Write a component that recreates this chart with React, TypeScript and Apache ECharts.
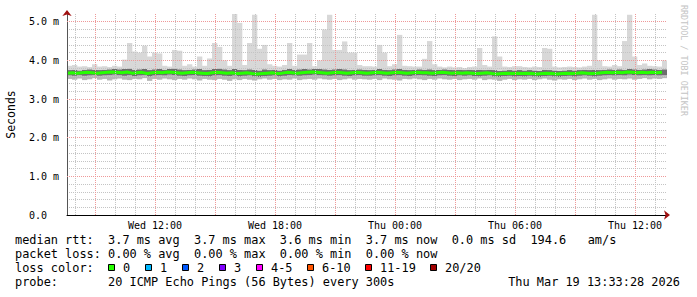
import React, { useEffect, useRef } from "react";
import * as echarts from "echarts";

// ---- time axis (hours since Wed 00:00) ----
const START_HOUR = 7.6; // Wed 07:36
const END_HOUR = 37.6; // Thu 13:36
const STEP_HOURS = 0.25; // one sample per 15 minutes

const minorGridHours = [8, 9, 10, 11, 12, 13, 14, 15, 16, 17, 18, 19, 20, 21, 22, 23, 24, 25, 26, 27, 28, 29, 30, 31, 32, 33, 34, 35, 36, 37];
const majorGridHours = [9, 12, 15, 18, 21, 24, 27, 30, 33, 36];
const labelHours = [12, 18, 24, 30, 36];

const yMinorTicks = [0.2, 0.4, 0.6, 0.8, 1.2, 1.4, 1.6, 1.8, 2.2, 2.4, 2.6, 2.8, 3.2, 3.4, 3.6, 3.8, 4.2, 4.4, 4.6, 4.8, 5.0];
const yMajorTicks = [1, 2, 3, 4, 5];
const yLabelTicks = [0, 1, 2, 3, 4, 5];

// ---- series (milliseconds) ----
const medianMs = [
  3.67, 3.68, 3.67, 3.68, 3.69, 3.68, 3.67, 3.68, 3.69, 3.70,
  3.69, 3.68, 3.70, 3.67, 3.68, 3.69, 3.66, 3.68, 3.69, 3.68,
  3.70, 3.69, 3.68, 3.67, 3.68, 3.69, 3.68, 3.67, 3.66, 3.68,
  3.69, 3.68, 3.67, 3.68, 3.66, 3.67, 3.68, 3.66, 3.65, 3.66,
  3.67, 3.68, 3.66, 3.67, 3.69, 3.68, 3.67, 3.68, 3.69, 3.70,
  3.69, 3.68, 3.67, 3.68, 3.69, 3.68, 3.67, 3.68, 3.69, 3.68,
  3.67, 3.68, 3.69, 3.68, 3.67, 3.68, 3.69, 3.68, 3.67, 3.68,
  3.69, 3.68, 3.68, 3.67, 3.68, 3.69, 3.68, 3.67, 3.68, 3.67,
  3.68, 3.67, 3.66, 3.67, 3.68, 3.66, 3.65, 3.66, 3.67, 3.66,
  3.67, 3.66, 3.67, 3.66, 3.65, 3.66, 3.67, 3.66, 3.65, 3.66,
  3.67, 3.66, 3.67, 3.68, 3.67, 3.66, 3.67, 3.68, 3.69, 3.68,
  3.69, 3.68, 3.70, 3.69, 3.68, 3.69, 3.68, 3.69, 3.68, 3.69,
];

const minMs = [
  3.52, 3.50, 3.53, 3.49, 3.51, 3.54, 3.50, 3.52, 3.48, 3.51,
  3.53, 3.50, 3.49, 3.52, 3.51, 3.54, 3.47, 3.52, 3.50, 3.53,
  3.51, 3.49, 3.52, 3.50, 3.53, 3.51, 3.48, 3.52, 3.50, 3.49,
  3.52, 3.50, 3.47, 3.51, 3.49, 3.52, 3.50, 3.48, 3.51, 3.53,
  3.50, 3.52, 3.49, 3.51, 3.50, 3.53, 3.49, 3.51, 3.52, 3.50,
  3.53, 3.51, 3.50, 3.52, 3.49, 3.51, 3.53, 3.50, 3.52, 3.51,
  3.50, 3.52, 3.49, 3.53, 3.51, 3.50, 3.48, 3.52, 3.51, 3.53,
  3.51, 3.49, 3.52, 3.50, 3.53, 3.51, 3.50, 3.52, 3.49, 3.51,
  3.52, 3.50, 3.53, 3.49, 3.51, 3.50, 3.47, 3.50, 3.52, 3.49,
  3.51, 3.50, 3.52, 3.49, 3.51, 3.53, 3.50, 3.48, 3.51, 3.50,
  3.52, 3.49, 3.51, 3.53, 3.50, 3.52, 3.49, 3.51, 3.53, 3.50,
  3.52, 3.51, 3.53, 3.50, 3.52, 3.54, 3.51, 3.53, 3.52, 3.54,
];

const loMs = [
  3.61, 3.60, 3.62, 3.60, 3.61, 3.62, 3.60, 3.61, 3.62, 3.63,
  3.62, 3.60, 3.62, 3.59, 3.61, 3.62, 3.58, 3.61, 3.62, 3.61,
  3.63, 3.62, 3.60, 3.59, 3.61, 3.62, 3.60, 3.59, 3.58, 3.61,
  3.62, 3.60, 3.59, 3.61, 3.58, 3.60, 3.61, 3.58, 3.57, 3.59,
  3.60, 3.61, 3.58, 3.60, 3.62, 3.61, 3.60, 3.61, 3.62, 3.63,
  3.62, 3.61, 3.60, 3.61, 3.62, 3.60, 3.59, 3.61, 3.62, 3.60,
  3.60, 3.61, 3.62, 3.60, 3.59, 3.61, 3.62, 3.60, 3.59, 3.61,
  3.62, 3.61, 3.60, 3.59, 3.61, 3.62, 3.60, 3.59, 3.61, 3.60,
  3.61, 3.59, 3.58, 3.60, 3.61, 3.58, 3.57, 3.59, 3.60, 3.58,
  3.59, 3.58, 3.60, 3.58, 3.57, 3.59, 3.60, 3.58, 3.57, 3.59,
  3.60, 3.58, 3.60, 3.61, 3.60, 3.58, 3.60, 3.61, 3.62, 3.61,
  3.62, 3.61, 3.63, 3.62, 3.61, 3.62, 3.61, 3.62, 3.61, 3.62,
];

const hiMs = [
  3.75, 3.76, 3.74, 3.76, 3.77, 3.76, 3.75, 3.76, 3.77, 3.78,
  3.77, 3.78, 3.79, 3.76, 3.77, 3.78, 3.75, 3.77, 3.78, 3.76,
  3.78, 3.79, 3.77, 3.75, 3.76, 3.77, 3.78, 3.75, 3.76, 3.78,
  3.79, 3.77, 3.75, 3.78, 3.76, 3.75, 3.77, 3.76, 3.74, 3.77,
  3.75, 3.76, 3.74, 3.76, 3.78, 3.76, 3.77, 3.78, 3.77, 3.78,
  3.78, 3.77, 3.76, 3.77, 3.78, 3.77, 3.75, 3.76, 3.77, 3.76,
  3.75, 3.76, 3.78, 3.76, 3.75, 3.77, 3.78, 3.76, 3.75, 3.76,
  3.77, 3.76, 3.77, 3.75, 3.76, 3.77, 3.76, 3.75, 3.76, 3.75,
  3.76, 3.75, 3.76, 3.75, 3.76, 3.75, 3.73, 3.74, 3.75, 3.74,
  3.75, 3.74, 3.75, 3.74, 3.73, 3.76, 3.75, 3.74, 3.73, 3.74,
  3.75, 3.74, 3.75, 3.76, 3.75, 3.76, 3.75, 3.76, 3.77, 3.76,
  3.77, 3.76, 3.78, 3.77, 3.76, 3.77, 3.78, 3.77, 3.76, 3.77,
];

const maxMs = [
  3.86, 3.88, 3.84, 3.85, 3.83, 3.90, 3.84, 3.85, 3.83, 3.86,
  3.84, 4.02, 4.45, 4.23, 4.20, 4.38, 4.10, 4.20, 4.18, 3.86,
  3.84, 4.27, 4.25, 3.86, 3.90, 3.84, 4.10, 3.86, 4.05, 4.45,
  4.35, 4.00, 3.86, 5.20, 4.97, 3.88, 4.45, 5.18, 4.30, 4.40,
  3.90, 3.86, 3.84, 3.88, 4.45, 3.86, 4.15, 4.15, 4.45, 3.85,
  4.00, 4.80, 5.18, 4.27, 4.27, 4.49, 4.20, 4.20, 3.88, 3.85,
  3.85, 3.84, 4.40, 4.20, 3.85, 3.90, 4.66, 3.86, 3.85, 3.84,
  3.84, 4.04, 4.50, 3.90, 3.84, 3.82, 3.84, 3.82, 3.83, 3.80,
  3.83, 3.84, 4.32, 3.88, 3.84, 4.62, 4.10, 3.84, 3.83, 3.85,
  3.85, 3.83, 3.82, 3.84, 3.83, 4.32, 4.30, 3.84, 3.82, 3.83,
  3.84, 3.83, 3.82, 3.84, 3.86, 5.18, 4.00, 3.85, 3.84, 3.88,
  3.85, 4.50, 5.18, 4.10, 3.88, 3.92, 3.86, 3.85, 3.84, 4.00,
];

// ---- legend texts ----
const legendMedian = "median rtt:  3.7 ms avg  3.7 ms max  3.6 ms min  3.7 ms now  0.0 ms sd  194.6   am/s";
const legendLoss = "packet loss: 0.00 % avg  0.00 % max  0.00 % min  0.00 % now";
const legendLossColorTitle = "loss color:";
const lossLabels = ["0", "1", "2", "3", "4-5", "6-10", "11-19", "20/20"];
const lossColors = ["#26ff00", "#00b8ff", "#0059ff", "#7e00ff", "#ff00ff", "#ff5500", "#ff0000", "#a10000"];
const legendProbe = "probe:       20 ICMP Echo Pings (56 Bytes) every 300s";
const legendDate = "Thu Mar 19 13:33:28 2026";
const watermark = "RRDTOOL / TOBI OETIKER";

const MONO = "DejaVu Sans Mono";
const SMOKE_COLORS = ["#b6b6b6", "#6e6e6e", "#d8d8d8"];

function hourLabel(h: number): string {
  const day = h < 24 ? "Wed" : "Thu";
  const hh = Math.round(h % 24);
  return `${day} ${String(hh).padStart(2, "0")}:00`;
}

export default function App() {
  const ref = useRef<HTMLDivElement>(null);

  useEffect(() => {
    if (!ref.current) return;
    const chart = echarts.init(ref.current, undefined, { renderer: "svg" });

    const xs = medianMs.map((_, i) => START_HOUR + i * STEP_HOURS);
    const smokeData = xs.map((x, i) => [x, minMs[i], loMs[i], hiMs[i], maxMs[i]]);
    const medianData = xs.map((x, i) => [x, medianMs[i]]);

    const renderSmoke = (_params: any, api: any) => {
      const x0 = api.value(0);
      const x1 = x0 + STEP_HOURS;
      const levels = [api.value(1), api.value(2), api.value(3), api.value(4)];
      const children = [];
      for (let k = 0; k < 3; k++) {
        const pTop = api.coord([x0, levels[k + 1]]);
        const pBot = api.coord([x1, levels[k]]);
        children.push({
          type: "rect",
          shape: { x: pTop[0], y: pTop[1], width: pBot[0] - pTop[0] + 0.3, height: pBot[1] - pTop[1] },
          style: { fill: SMOKE_COLORS[k] },
        });
      }
      return { type: "group", children };
    };

    const font = `11.9px "${MONO}"`;
    const graphics: any[] = [];
    const lineTop = [234, 248, 262, 276];
    graphics.push({ type: "text", left: 15, top: lineTop[0], style: { text: legendMedian, font, fill: "#000" } });
    graphics.push({ type: "text", left: 15, top: lineTop[1], style: { text: legendLoss, font, fill: "#000" } });
    graphics.push({ type: "text", left: 15, top: lineTop[2], style: { text: legendLossColorTitle, font, fill: "#000" } });
    let lx = 108;
    lossLabels.forEach((lab, i) => {
      graphics.push({
        type: "rect",
        left: lx,
        top: 264,
        shape: { x: 0, y: 0, width: 6, height: 6 },
        style: { fill: lossColors[i], stroke: "#000", lineWidth: 1 },
      });
      graphics.push({ type: "text", left: lx + 15, top: lineTop[2], style: { text: lab, font, fill: "#000" } });
      lx += 15 + lab.length * 7.0 + 15;
    });
    graphics.push({ type: "text", left: 15, top: lineTop[3], style: { text: legendProbe, font, fill: "#000" } });
    graphics.push({ type: "text", right: 17, top: lineTop[3], style: { text: legendDate, font, fill: "#000" } });
    graphics.push({
      type: "text",
      x: 684,
      y: 5,
      rotation: -Math.PI / 2,
      style: { text: watermark, font: `8.4px "${MONO}"`, fill: "#c4c4c4", textAlign: "left", textVerticalAlign: "middle" },
    });

    const minorLine = { show: true, lineStyle: { color: "#c4c4c4", width: 1, type: [1, 1] } };
    const majorLine = { show: true, lineStyle: { color: "#ee9999", width: 1, type: [1, 1] } };

    chart.setOption({
      animation: false,
      backgroundColor: "#ffffff",
      grid: { left: 67, right: 30, top: 14, bottom: 82, containLabel: false, outerBoundsMode: "none" },
      xAxis: [
        {
          type: "value",
          position: "bottom",
          min: START_HOUR,
          max: END_HOUR,
          z: 3,
          axisLine: { show: true, lineStyle: { color: "#000", width: 1 } },
          axisTick: { show: false, customValues: minorGridHours },
          axisLabel: {
            customValues: labelHours,
            formatter: (v: number) => hourLabel(v),
            color: "#000",
            fontFamily: MONO,
            fontSize: 10,
            margin: 5,
          },
          splitLine: minorLine,
        },
        {
          type: "value",
          position: "bottom",
          min: START_HOUR,
          max: END_HOUR,
          z: 4,
          axisLine: {
            show: true,
            symbol: ["none", "arrow"],
            symbolSize: [7, 6],
            symbolOffset: [0, 3],
            lineStyle: { color: "#a01010", width: 0 },
          },
          axisTick: { show: false, customValues: majorGridHours },
          axisLabel: { show: false },
          splitLine: majorLine,
        },
      ],
      yAxis: [
        {
          type: "value",
          position: "left",
          min: 0,
          max: 5.2,
          z: 3,
          name: "Seconds",
          nameLocation: "middle",
          nameRotate: 90,
          nameGap: 50,
          nameTextStyle: { fontFamily: MONO, fontSize: 11.5, color: "#000" },
          axisLine: { show: true, lineStyle: { color: "#555", width: 1 } },
          axisTick: { show: false, customValues: yMinorTicks },
          axisLabel: {
            customValues: yLabelTicks,
            formatter: (v: number) => (v === 0 ? "{z|0.0}" : `${v.toFixed(1)} m`),
            rich: { z: { fontFamily: MONO, fontSize: 10, color: "#000", padding: [0, 12, 0, 0] } },
            color: "#000",
            fontFamily: MONO,
            fontSize: 10,
            margin: 8,
          },
          splitLine: minorLine,
        },
        {
          type: "value",
          position: "left",
          min: 0,
          max: 5.2,
          z: 4,
          axisLine: {
            show: true,
            symbol: ["none", "arrow"],
            symbolSize: [7, 6],
            symbolOffset: [0, 4],
            lineStyle: { color: "#a01010", width: 0 },
          },
          axisTick: { show: false, customValues: yMajorTicks },
          axisLabel: { show: false },
          splitLine: majorLine,
        },
      ],
      series: [
        {
          type: "custom",
          name: "smoke",
          data: smokeData,
          encode: { x: 0, y: [1, 2, 3, 4] },
          renderItem: renderSmoke,
          clip: true,
          silent: true,
          z: 2,
        },
        {
          type: "line",
          name: "median",
          data: medianData,
          symbol: "none",
          lineStyle: { color: "#26ff00", width: 3 },
          z: 2.5,
          silent: true,
        },
      ],
      graphic: graphics,
    });

    return () => chart.dispose();
  }, []);

  return <div ref={ref} style={{ position: "fixed", left: 0, top: 0, width: 697, height: 297 }} />;
}
